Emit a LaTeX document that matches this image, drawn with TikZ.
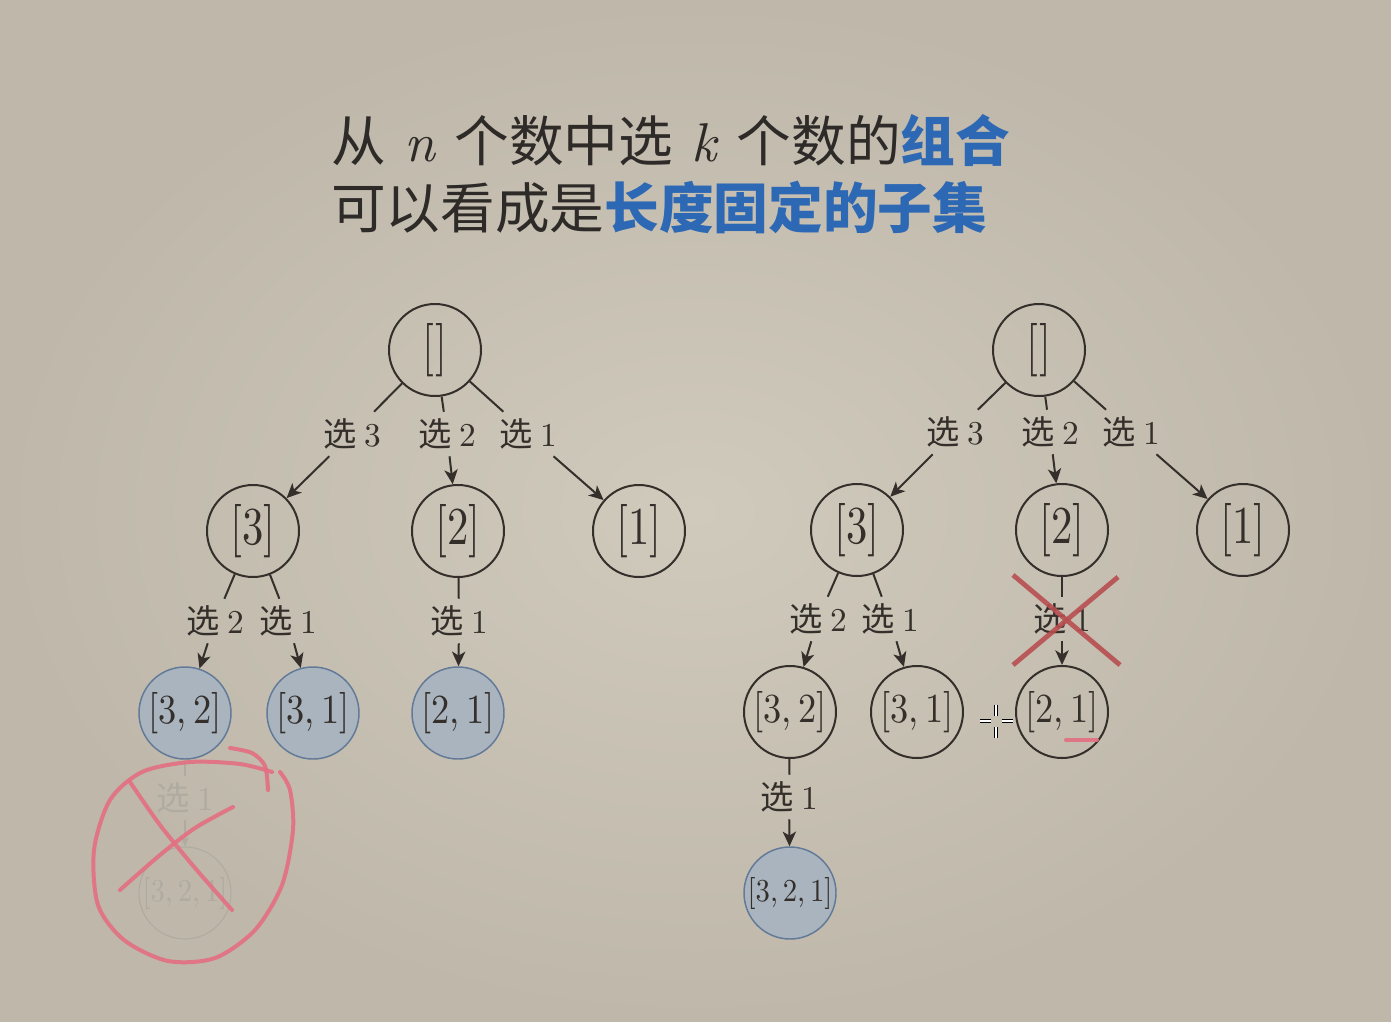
\documentclass[tikz,border=0pt]{standalone}
\usepackage{fontspec}
\usepackage{graphicx}
\setmainfont{lmroman10-regular.otf}[ItalicFont=lmroman10-italic.otf, BoldFont=lmroman10-bold.otf]
\newfontfamily\cjk{Noto Sans CJK SC}
\usetikzlibrary{arrows.meta}
\definecolor{bgin}{RGB}{208,202,189}
\definecolor{bgout}{RGB}{190,183,170}
\definecolor{ink}{RGB}{52,47,42}
\definecolor{ttl}{RGB}{45,42,40}
\definecolor{hl}{RGB}{44,104,180}
\definecolor{nfill}{RGB}{170,180,190}
\definecolor{nbord}{RGB}{98,122,152}
\definecolor{ghostc}{RGB}{176,171,161}
\definecolor{redx}{RGB}{184,78,80}
\definecolor{pinkc}{RGB}{226,112,130}
\newcommand{\nA}[1]{\scalebox{0.8}[1]{\fontsize{40}{40}\selectfont[#1]}}
\newcommand{\nB}[2]{\scalebox{0.88}[1]{\fontsize{31}{31}\selectfont[#1,\,#2]}}
\newcommand{\nC}[3]{\scalebox{0.9}[1]{\fontsize{24}{24}\selectfont[#1,\,#2,\,#3]}}
\newcommand{\nE}{\scalebox{0.8}[1]{\fontsize{40}{40}\selectfont[\kern0.02em]}}
\newcommand{\sel}[1]{{\cjk 选}\hspace{0.22em}#1}
\begin{document}
\begin{tikzpicture}[x=0.75pt,y=-0.75pt,
  tn/.style={circle, draw=ink, text=ink, line width=1.5pt, minimum size=69pt, inner sep=0pt},
  filled/.style={fill=nfill, draw=nbord, line width=1.1pt},
  ghost/.style={draw=ghostc, text=ghostc, line width=0.8pt},
  lbl/.style={inner xsep=1pt, inner ysep=0pt, minimum height=33pt, text=ink, font=\fontsize{25}{25}\selectfont},
  edge/.style={draw=ink, line width=1.5pt},
  arr/.style={edge, -{Stealth[length=11pt,width=10pt,inset=3pt]}},
  gedge/.style={draw=ghostc, line width=0.8pt},
  garr/.style={gedge, -{Stealth[length=7pt,width=6pt,inset=2pt]}},
  redmark/.style={draw=redx, line width=3.6pt, opacity=0.9},
  pinkmark/.style={draw=pinkc, line width=3pt, line cap=round, line join=round, opacity=0.92}
]
\shade[inner color=bgin, outer color=bgout] (0,0) rectangle (1391,1021);
\useasboundingbox (0,0) rectangle (1391,1021);

% title
\node[anchor=base west, inner sep=0pt, text=ttl, font=\fontsize{41}{50}\selectfont] (t1) at (331,161)
  {{\cjk 从}\ \textit{n}\ {\cjk 个数中选}\ \textit{k}\ {\cjk 个数的{\bfseries\color{hl}组合}}};
\node[anchor=base west, inner sep=0pt, text=ttl, font=\fontsize{41}{50}\selectfont] (t2) at (331,228)
  {{\cjk 可以看成是{\bfseries\color{hl}长度固定的子集}}};

% ---------- left tree ----------
\node[tn] (L0) at (435,350) {\nE};
\node[tn] (L3) at (253,531) {\nA{3}};
\node[tn] (L2) at (458,531) {\nA{2}};
\node[tn] (L1) at (639,531) {\nA{1}};
\node[tn,filled] (L32) at (185,713) {\nB32};
\node[tn,filled] (L31) at (313,713) {\nB31};
\node[tn,filled] (L21) at (458,713) {\nB21};
\node[tn,ghost] (L321) at (185,893) {\nC321};

\node[lbl] (la3) at (352,434) {\sel3};
\node[lbl] (la2) at (447,434) {\sel2};
\node[lbl] (la1) at (528,434) {\sel1};
\node[lbl] (lb2) at (215,621) {\sel2};
\node[lbl] (lb1) at (288,621) {\sel1};
\node[lbl] (lc1) at (459,621) {\sel1};
\node[lbl, text=ghostc] (lg1) at (185,798) {\sel1};

\draw[edge] (L0) -- (la3); \draw[arr] (la3) -- (L3);
\draw[edge] (L0) -- (la2); \draw[arr] (la2) -- (L2);
\draw[edge] (L0) -- (la1); \draw[arr] (la1) -- (L1);
\draw[edge] (L3) -- (lb2); \draw[arr] (lb2) -- (L32);
\draw[edge] (L3) -- (lb1); \draw[arr] (lb1) -- (L31);
\draw[edge] (L2) -- (lc1); \draw[arr] (lc1) -- (L21);
\draw[gedge] (L32) -- (lg1); \draw[garr] (lg1) -- (L321);

% ---------- right tree ----------
\node[tn] (R0) at (1039,350) {\nE};
\node[tn] (R3) at (857,530) {\nA{3}};
\node[tn] (R2) at (1062,530) {\nA{2}};
\node[tn] (R1) at (1243,530) {\nA{1}};
\node[tn] (R32) at (790,712) {\nB32};
\node[tn] (R31) at (917,712) {\nB31};
\node[tn] (R21) at (1062,712) {\nB21};
\node[tn,filled] (R321) at (790,893) {\nC321};

\node[lbl] (ra3) at (955,432) {\sel3};
\node[lbl] (ra2) at (1050,432) {\sel2};
\node[lbl] (ra1) at (1131,432) {\sel1};
\node[lbl] (rb2) at (818,619) {\sel2};
\node[lbl] (rb1) at (890,619) {\sel1};
\node[lbl] (rc1) at (1062,619) {\sel1};
\node[lbl] (rd1) at (789,797) {\sel1};

\draw[edge] (R0) -- (ra3); \draw[arr] (ra3) -- (R3);
\draw[edge] (R0) -- (ra2); \draw[arr] (ra2) -- (R2);
\draw[edge] (R0) -- (ra1); \draw[arr] (ra1) -- (R1);
\draw[edge] (R3) -- (rb2); \draw[arr] (rb2) -- (R32);
\draw[edge] (R3) -- (rb1); \draw[arr] (rb1) -- (R31);
\draw[edge] (R2) -- (rc1); \draw[arr] (rc1) -- (R21);
\draw[edge] (R32) -- (rd1); \draw[arr] (rd1) -- (R321);

% ---------- hand-drawn marks ----------
\draw[redmark] (1013,575) -- (1120,665);
\draw[redmark] (1118,577) -- (1013,665);
\draw[pinkmark] (1066,740) -- (1097,740);

\draw[pinkmark] plot[smooth] coordinates {(230,748) (252,753) (265,766) (268,790)};
\draw[pinkmark] plot[smooth] coordinates {(272,772) (240,764) (190,762) (142,772) (110,800) (94,850) (98,905) (124,940) (168,961) (215,958) (255,930) (282,885) (293,830) (290,790) (280,772)};
\draw[pinkmark] plot[smooth] coordinates {(130,782) (160,825) (195,868) (232,910)};
\draw[pinkmark] plot[smooth] coordinates {(120,890) (160,855) (195,828) (233,807)};

% cursor
\foreach \a/\b in {{(980,721)/(991,721)},{(1002,721)/(1013,721)},{(996,705)/(996,716)},{(996,727)/(996,738)}}{
  \draw[black, line width=2.6pt] \a -- \b;
  \draw[white, line width=1.2pt] \a -- \b;
}
\end{tikzpicture}
\end{document}
